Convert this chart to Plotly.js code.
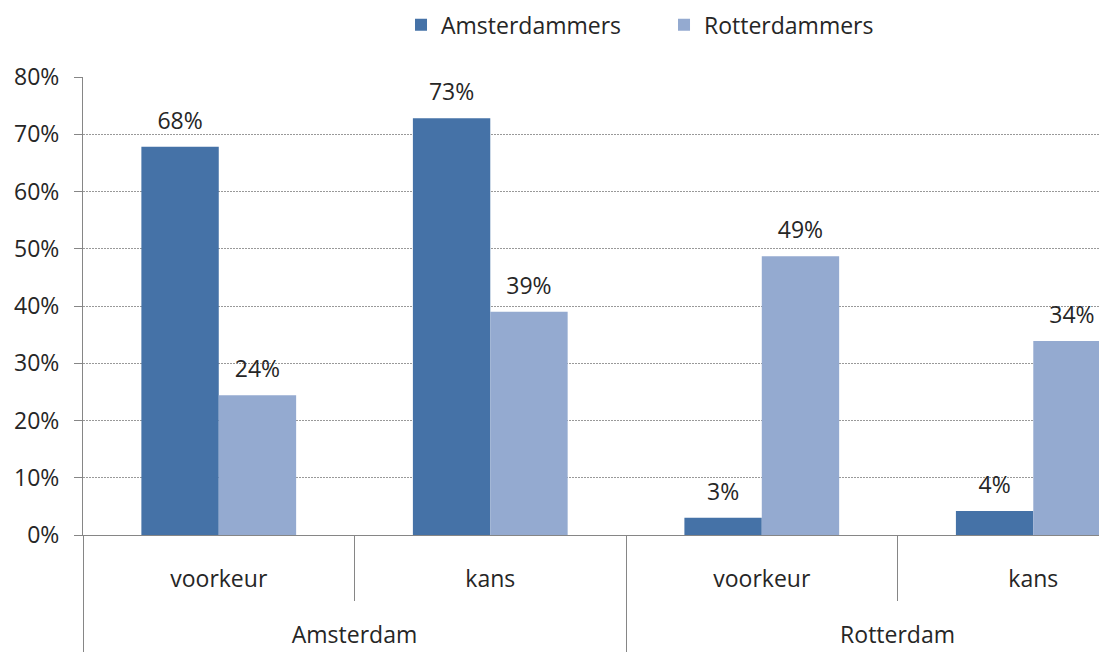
<!DOCTYPE html>
<html>
<head>
<meta charset="utf-8">
<script src="https://cdn.plot.ly/plotly-3.0.1.min.js"></script>
<style>
html,body{margin:0;padding:0;background:#fff;}
#chart{width:1099px;height:652px;}
</style>
</head>
<body>
<div id="chart"></div>
<script>
const cities = ['Amsterdam','Amsterdam','Rotterdam','Rotterdam'];
const aspects = ['voorkeur','kans','voorkeur','kans'];
const seriesNames = ['Amsterdammers','Rotterdammers'];
const amsterdammers = [0.678, 0.728, 0.03, 0.042];
const rotterdammers = [0.244, 0.39, 0.487, 0.339];
const colors = ['#4572A7', '#94AAD0'];

const fontFam = '"Open Sans", "Noto Sans", sans-serif';
const textCol = '#262626';
const axisCol = '#868686';
const FS = 23;

// positions derived from the category arrays
const idx = aspects.map((_, i) => i);
const catBounds = idx.map(i => i - 0.5).concat([idx.length - 0.5]);
const cityNames = [...new Set(cities)];
const cityCenters = cityNames.map(c => {
  const ii = idx.filter(i => cities[i] === c);
  return (ii[0] + ii[ii.length - 1]) / 2;
});
const cityBounds = cityNames.map(c => idx.find(i => cities[i] === c) - 0.5).concat([idx.length - 0.5]);
const xRange = [-0.5, 3.242];

function bar(name, vals, color){
  return {
    type:'bar', name:name, x:idx, y:vals,
    marker:{color:color, line:{width:0}},
    hoverinfo:'skip'
  };
}
function labels(name, vals){
  return {
    type:'scatter', mode:'markers+text', name:name+' labels', x:idx, y:vals,
    xaxis:'x2', offsetgroup:name, showlegend:false,
    marker:{size:18, opacity:0},
    texttemplate:'%{y:.0%}', textposition:'top center',
    textfont:{family:fontFam, size:FS, color:textCol},
    cliponaxis:false, hoverinfo:'skip'
  };
}

const data = [
  bar(seriesNames[0], amsterdammers, colors[0]),
  bar(seriesNames[1], rotterdammers, colors[1]),
  labels(seriesNames[0], amsterdammers),
  labels(seriesNames[1], rotterdammers)
];

const layout = {
  width:1099, height:652,
  margin:{l:83, r:0, t:77, b:117},
  paper_bgcolor:'#fff', plot_bgcolor:'#fff',
  font:{family:fontFam, size:FS, color:textCol},
  barmode:'group', bargap:0.43, bargroupgap:0,
  scattermode:'group', scattergap:0.43,
  showlegend:true,
  legend:{orientation:'h', x:0.313, xanchor:'left', y:0.995, yref:'container', yanchor:'top',
          font:{family:fontFam, size:FS, color:textCol}, entrywidth:218, entrywidthmode:'pixels'},
  xaxis:{type:'linear', range:xRange, showline:true, linecolor:axisCol, linewidth:1,
         tickmode:'array', tickvals:idx, ticktext:aspects, ticks:'',
         minor:{tickmode:'array', tickvals:catBounds, ticks:'outside', ticklen:65, tickcolor:axisCol, tickwidth:1, showgrid:false},
         tickfont:{family:fontFam, size:FS, color:textCol}, ticklabelstandoff:23,
         showgrid:false, zeroline:false, fixedrange:true},
  xaxis2:{type:'linear', range:xRange, overlaying:'x', anchor:'y', side:'bottom',
         showline:false, tickmode:'array', tickvals:cityCenters, ticktext:cityNames, ticks:'',
         minor:{tickmode:'array', tickvals:cityBounds, ticks:'outside', ticklen:140, tickcolor:axisCol, tickwidth:1, showgrid:false},
         tickfont:{family:fontFam, size:FS, color:textCol}, ticklabelstandoff:84,
         showgrid:false, zeroline:false, fixedrange:true},
  yaxis:{range:[0,0.8], tickformat:'.0%', dtick:0.1, tick0:0,
         showgrid:true, gridcolor:'#999999', griddash:'2px,1px', gridwidth:1,
         showline:true, linecolor:axisCol, linewidth:1,
         ticks:'outside', ticklen:8, tickcolor:axisCol, ticklabelstandoff:10,
         tickfont:{family:fontFam, size:FS, color:textCol},
         zeroline:false, fixedrange:true}
};

Plotly.newPlot('chart', data, layout, {displayModeBar:false, staticPlot:true});
</script>
</body>
</html>
